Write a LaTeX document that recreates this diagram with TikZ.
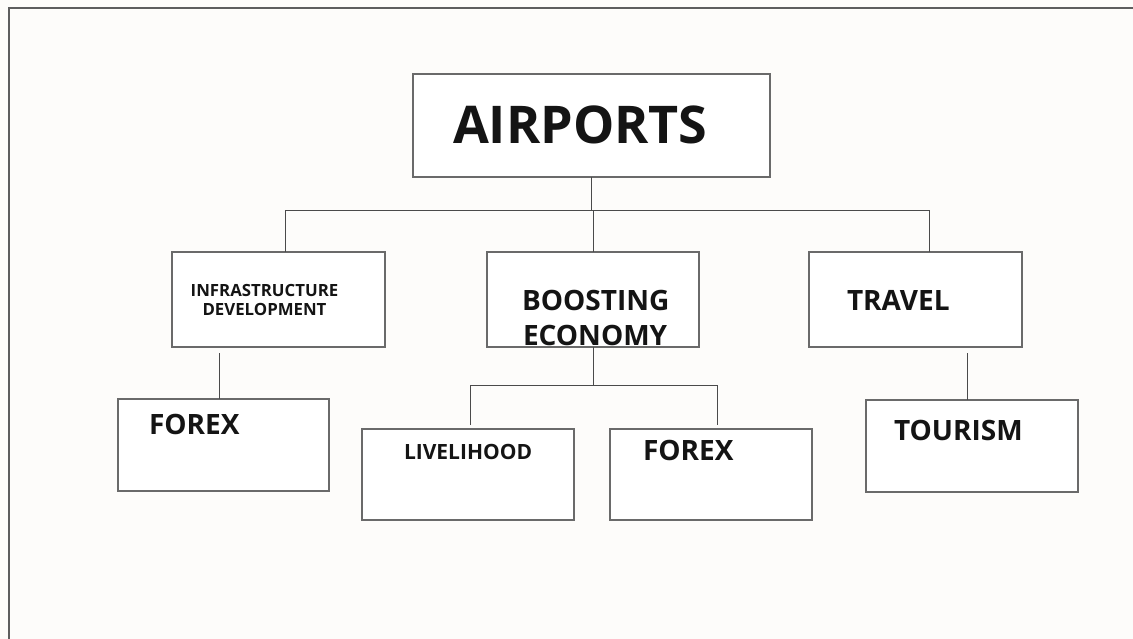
\documentclass[tikz,border=0pt]{standalone}
\usepackage{fontspec}
\setmainfont{Open Sans}
\definecolor{bgc}{HTML}{FDFCFA}
\definecolor{boxc}{HTML}{6A6A6A}
\definecolor{linec}{HTML}{4A4A4A}
\definecolor{framec}{HTML}{5E5E5E}
\definecolor{txtc}{HTML}{141414}
\begin{document}
\begin{tikzpicture}[x=1pt,y=-1pt,
  boxnode/.style={draw=boxc, line width=1.2pt, rectangle, inner sep=0pt, outer sep=0pt, fill=white},
  lbl/.style={inner sep=0pt, outer sep=0pt, anchor=base west, text=txtc},
  conn/.style={draw=linec, line width=1pt},
  huge/.style={font=\fontsize{52}{60}\selectfont\bfseries},
  big/.style={font=\fontsize{28}{34}\selectfont\bfseries},
  mid/.style={font=\fontsize{21}{25}\selectfont\bfseries},
  small/.style={font=\fontsize{16.8}{19}\selectfont\bfseries}]
\useasboundingbox (0,0) rectangle (1133,639);
\fill[bgc] (0,0) rectangle (1133,639);
\draw[framec, line width=2pt] (8.5,645) -- (8.5,8.5) -- (1140,8.5);

% boxes
\node[boxnode, minimum width=357pt, minimum height=103pt] (air) at (591.5,125.5) {};
\node[boxnode, minimum width=213pt, minimum height=95pt] (infra) at (278.5,299.5) {};
\node[boxnode, minimum width=212pt, minimum height=95pt] (boost) at (593,299.5) {};
\node[boxnode, minimum width=213pt, minimum height=95pt] (travel) at (915.5,299.5) {};
\node[boxnode, minimum width=211pt, minimum height=92pt] (forexa) at (223.5,445) {};
\node[boxnode, minimum width=212pt, minimum height=91pt] (live) at (468,474.5) {};
\node[boxnode, minimum width=202pt, minimum height=91pt] (forexb) at (711,474.5) {};
\node[boxnode, minimum width=212pt, minimum height=92pt] (tour) at (972,446) {};

% connector coordinates
\coordinate (busL) at (285,211);
\coordinate (busR) at (929,211);
\coordinate (ia) at (219,353);
\coordinate (bL) at (470,385);
\coordinate (bR) at (717,385);
\coordinate (ta) at (967,353);

% connectors
\draw[conn] (air.south) -- (air.south |- busL);
\draw[conn] (infra.north -| busL) -- (busL) -- (busR) -- (travel.north -| busR);
\draw[conn] (boost.north) -- (boost.north |- busL);
\draw[conn] (ia) -- (ia |- forexa.north);
\draw[conn] (boost.south) -- (boost.south |- bL);
\draw[conn] ([yshift=4pt]live.north -| bL) -- (bL) -- (bR) -- ([yshift=4pt]forexb.north -| bR);
\draw[conn] (ta) -- (ta |- tour.north);

% texts
\node[lbl, huge] (tair) at (453,144) {AIRPORTS};
\node[lbl, small, anchor=base] (tinfa) at (264.5,296) {INFRASTRUCTURE};
\node[lbl, small, anchor=base] (tinfb) at (264.5,315) {DEVELOPMENT};
\node[lbl, big] (tboa) at (522,310) {BOOSTING};
\node[lbl, big] (tbob) at (523,345) {ECONOMY};
\node[lbl, big] (ttra) at (847,310) {TRAVEL};
\node[lbl, big] (tfxa) at (149,434) {FOREX};
\node[lbl, mid] (tliv) at (404,459) {LIVELIHOOD};
\node[lbl, big] (tfxb) at (643,460) {FOREX};
\node[lbl, big] (ttou) at (894,440) {TOURISM};
\end{tikzpicture}
\end{document}
